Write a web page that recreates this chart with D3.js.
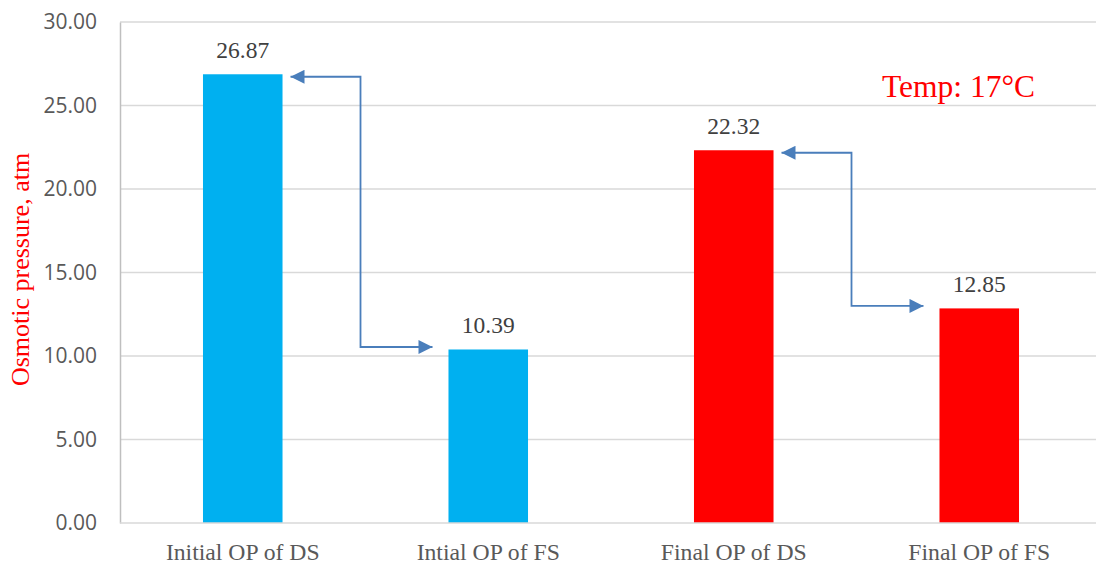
<!DOCTYPE html>
<html>
<head>
<meta charset="utf-8">
<script src="https://cdn.jsdelivr.net/npm/d3@7"></script>
<style>
  html, body { margin: 0; padding: 0; background: #fff; }
  svg { display: block; }
</style>
</head>
<body>
<svg id="chart" width="1096" height="564"></svg>
<script>
// Osmotic pressure of draw solution (DS) and feed solution (FS), before and after the run
const categories = ["Initial OP of DS", "Intial OP of FS", "Final OP of DS", "Final OP of FS"];
const values = [26.87, 10.39, 22.32, 12.85];
const barColors = ["#00B0F0", "#00B0F0", "#FF0000", "#FF0000"];
const yTicks = [0, 5, 10, 15, 20, 25, 30];
// Each connector links a DS bar to the FS bar that follows it
const connectors = [[0, 1], [2, 3]];
const yTitle = "Osmotic pressure, atm";
const note = "Temp: 17°C";

const svg = d3.select("#chart");
const W = 1096, H = 564;
const plot = { left: 120, right: 1102, top: 22, bottom: 523 };
const serif = "'Liberation Serif', 'Times New Roman', serif";

const x = d3.scaleBand()
  .domain(categories)
  .range([plot.left, plot.right])
  .paddingInner(0.676)
  .paddingOuter(0.338);

const y = d3.scaleLinear().domain([0, 30]).range([plot.bottom, plot.top]);

// Horizontal gridlines
svg.append("g")
  .selectAll("line")
  .data(yTicks.filter(t => t > 0))
  .join("line")
  .attr("x1", plot.left).attr("x2", W)
  .attr("y1", d => y(d)).attr("y2", d => y(d))
  .attr("stroke", "#d9d9d9").attr("stroke-width", 1.5);

// Y axis
const yAxis = svg.append("g")
  .attr("transform", `translate(${plot.left},0)`)
  .call(d3.axisLeft(y).tickValues(yTicks).tickFormat(d3.format(".2f")).tickSize(0).tickPadding(23));
yAxis.select(".domain").attr("stroke", "#bfbfbf").attr("stroke-width", 1.5);
yAxis.selectAll("text")
  .attr("fill", "#595959")
  .style("font-family", "'Open Sans', sans-serif")
  .style("font-size", "21px");

// Bars
svg.append("g")
  .selectAll("rect")
  .data(values)
  .join("rect")
  .attr("x", (d, i) => x(categories[i]))
  .attr("width", x.bandwidth())
  .attr("y", d => y(d))
  .attr("height", d => y(0) - y(d))
  .attr("fill", (d, i) => barColors[i]);

// Baseline (category axis)
const xAxis = svg.append("g")
  .attr("transform", `translate(0,${plot.bottom})`)
  .call(d3.axisBottom(x).tickSize(0).tickPadding(20));
xAxis.select(".domain").remove();
svg.append("line")
  .attr("x1", plot.left).attr("x2", W)
  .attr("y1", plot.bottom).attr("y2", plot.bottom)
  .attr("stroke", "#d9d9d9").attr("stroke-width", 1.5);
xAxis.selectAll("text")
  .attr("fill", "#595959")
  .style("font-family", serif)
  .style("font-size", "23.7px");

// Value labels
svg.append("g")
  .selectAll("text")
  .data(values)
  .join("text")
  .attr("x", (d, i) => x(categories[i]) + x.bandwidth() / 2)
  .attr("y", d => y(d) - 16)
  .attr("text-anchor", "middle")
  .attr("fill", "#404040")
  .style("font-family", serif)
  .style("font-size", "23.5px")
  .text(d => d.toFixed(2));

// Elbow connectors with arrowheads at both ends
const defs = svg.append("defs");
defs.append("marker")
  .attr("id", "arrowhead")
  .attr("viewBox", "0 0 10 10")
  .attr("refX", 10).attr("refY", 5)
  .attr("markerUnits", "userSpaceOnUse")
  .attr("markerWidth", 15).attr("markerHeight", 14)
  .attr("orient", "auto-start-reverse")
  .append("path")
  .attr("d", "M0,0 L10,5 L0,10 Z")
  .attr("fill", "#4A7EBB");

connectors.forEach(([a, b]) => {
  const xa = x(categories[a]) + x.bandwidth() + 8;
  const xb = x(categories[b]) - 16;
  const ya = y(values[a]) + 2.5;
  const yb = y(values[b]) - 2.5;
  const xm = (x(categories[a]) + x.bandwidth() + x(categories[b])) / 2 - 5;
  svg.append("path")
    .attr("d", `M${xa},${ya} H${xm} V${yb} H${xb}`)
    .attr("fill", "none")
    .attr("stroke", "#4A7EBB")
    .attr("stroke-width", 1.8)
    .attr("marker-start", "url(#arrowhead)")
    .attr("marker-end", "url(#arrowhead)");
});

// Y axis title
svg.append("text")
  .attr("transform", `translate(29,${(plot.top + plot.bottom) / 2 - 3}) rotate(-90)`)
  .attr("text-anchor", "middle")
  .attr("fill", "#FF0000")
  .style("font-family", serif)
  .style("font-size", "26px")
  .text(yTitle);

// Temperature note
svg.append("text")
  .attr("x", 882).attr("y", 97)
  .attr("fill", "#FF0000")
  .style("font-family", serif)
  .style("font-size", "31.5px")
  .text(note);
</script>
</body>
</html>
